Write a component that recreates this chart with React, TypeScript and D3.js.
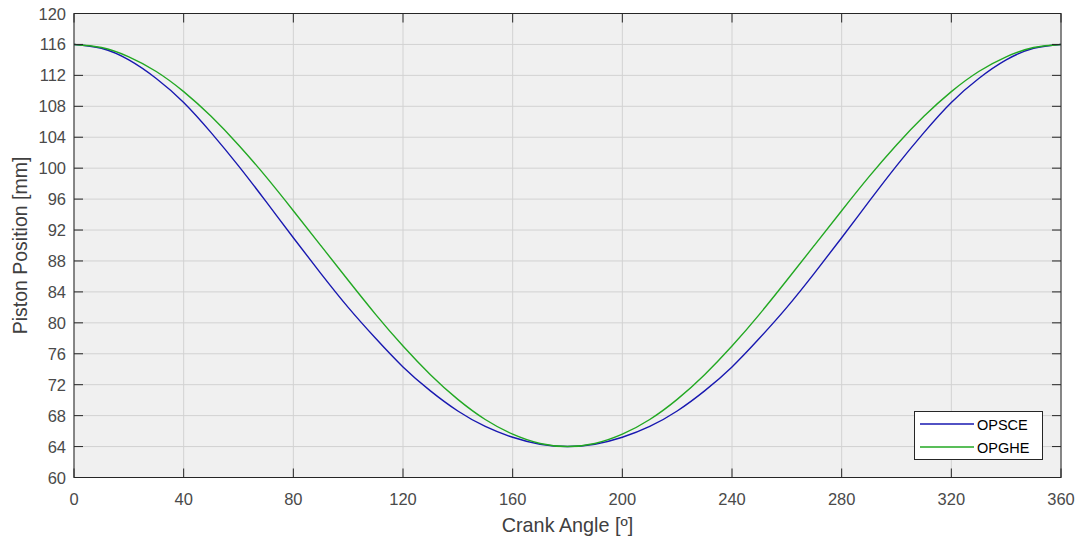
import React from "react";
import * as d3 from "d3";

const angles = [0, 10, 20, 30, 40, 50, 60, 70, 80, 90, 100, 110, 120, 130, 140, 150, 160, 170, 180,
  190, 200, 210, 220, 230, 240, 250, 260, 270, 280, 290, 300, 310, 320, 330, 340, 350, 360];
const opsce = [116, 115.5, 114.0, 111.6, 108.5, 104.6, 100.3, 95.7, 91.0, 86.4, 82.0, 78.0, 74.3, 71.2, 68.6, 66.6, 65.2, 64.3, 64.0,
  64.3, 65.2, 66.6, 68.6, 71.2, 74.3, 78.0, 82.0, 86.4, 91.0, 95.7, 100.3, 104.6, 108.5, 111.6, 114.0, 115.5, 116];
const opghe = [116, 115.6, 114.4, 112.5, 109.9, 106.7, 103.0, 98.9, 94.5, 90.0, 85.5, 81.1, 77.0, 73.3, 70.1, 67.5, 65.6, 64.4, 64.0,
  64.4, 65.6, 67.5, 70.1, 73.3, 77.0, 81.1, 85.5, 90.0, 94.5, 98.9, 103.0, 106.7, 109.9, 112.5, 114.4, 115.6, 116];
const xTicks = [0, 40, 80, 120, 160, 200, 240, 280, 320, 360];
const yTicks = [60, 64, 68, 72, 76, 80, 84, 88, 92, 96, 100, 104, 108, 112, 116, 120];
const seriesNames = ["OPSCE", "OPGHE"];
const seriesColors = ["#1818b0", "#22a822"];

export default function App() {
  const W = 1078, H = 538;
  const left = 74, right = 1061, top = 13.5, bottom = 477.5;
  const x = d3.scaleLinear().domain([0, 360]).range([left, right]);
  const y = d3.scaleLinear().domain([60, 120]).range([bottom, top]);
  const line = d3.line<number>().x((_, i) => x(angles[i])).y((d) => y(d)).curve(d3.curveNatural);
  const axisColor = "#262626";
  const textColor = "#4a4a4a";
  const font = "'Liberation Sans', Arial, sans-serif";
  const tl = 9;
  const series = [opsce, opghe];
  return (
    <svg width={W} height={H} style={{ position: "absolute", left: 0, top: 0, background: "#fff" }} fontFamily={font}>
      <rect x={left} y={top} width={right - left} height={bottom - top} fill="#f0f0f0" />
      {xTicks.map((t) => (
        <line key={"gx" + t} x1={x(t)} x2={x(t)} y1={top} y2={bottom} stroke="#d2d2d2" strokeWidth={1} />
      ))}
      {yTicks.map((t) => (
        <line key={"gy" + t} x1={left} x2={right} y1={y(t)} y2={y(t)} stroke="#d2d2d2" strokeWidth={1} />
      ))}
      {series.map((s, i) => (
        <path key={i} d={line(s) || ""} fill="none" stroke={seriesColors[i]} strokeWidth={1.4} />
      ))}
      <rect x={left} y={top} width={right - left} height={bottom - top} fill="none" stroke={axisColor} strokeWidth={1} />
      {xTicks.map((t) => (
        <g key={"tx" + t}>
          <line x1={x(t)} x2={x(t)} y1={bottom} y2={bottom - tl} stroke={axisColor} />
          <line x1={x(t)} x2={x(t)} y1={top} y2={top + tl} stroke={axisColor} />
          <text x={x(t)} y={505} textAnchor="middle" fontSize={16.5} fill={textColor}>{t}</text>
        </g>
      ))}
      {yTicks.map((t) => (
        <g key={"ty" + t}>
          <line x1={left} x2={left + tl} y1={y(t)} y2={y(t)} stroke={axisColor} />
          <line x1={right} x2={right - tl} y1={y(t)} y2={y(t)} stroke={axisColor} />
          <text x={66} y={y(t) + 6} textAnchor="end" fontSize={16.5} fill={textColor}>{t}</text>
        </g>
      ))}
      <text x={(left + right) / 2} y={532} textAnchor="middle" fontSize={19.8} fill="#404040">Crank Angle [º]</text>
      <text transform={`translate(27,${(top + bottom) / 2}) rotate(-90)`} textAnchor="middle" fontSize={19.5} fill="#404040">Piston Position [mm]</text>
      <rect x={914.5} y={411.5} width={128} height={48} fill="#fff" stroke={axisColor} strokeWidth={1} />
      {seriesNames.map((n, i) => (
        <g key={n}>
          <line x1={920} x2={974} y1={424 + i * 23} y2={424 + i * 23} stroke={seriesColors[i]} strokeWidth={1.4} />
          <text x={977} y={429.5 + i * 23} fontSize={14.5} fill="#000">{n}</text>
        </g>
      ))}
    </svg>
  );
}
